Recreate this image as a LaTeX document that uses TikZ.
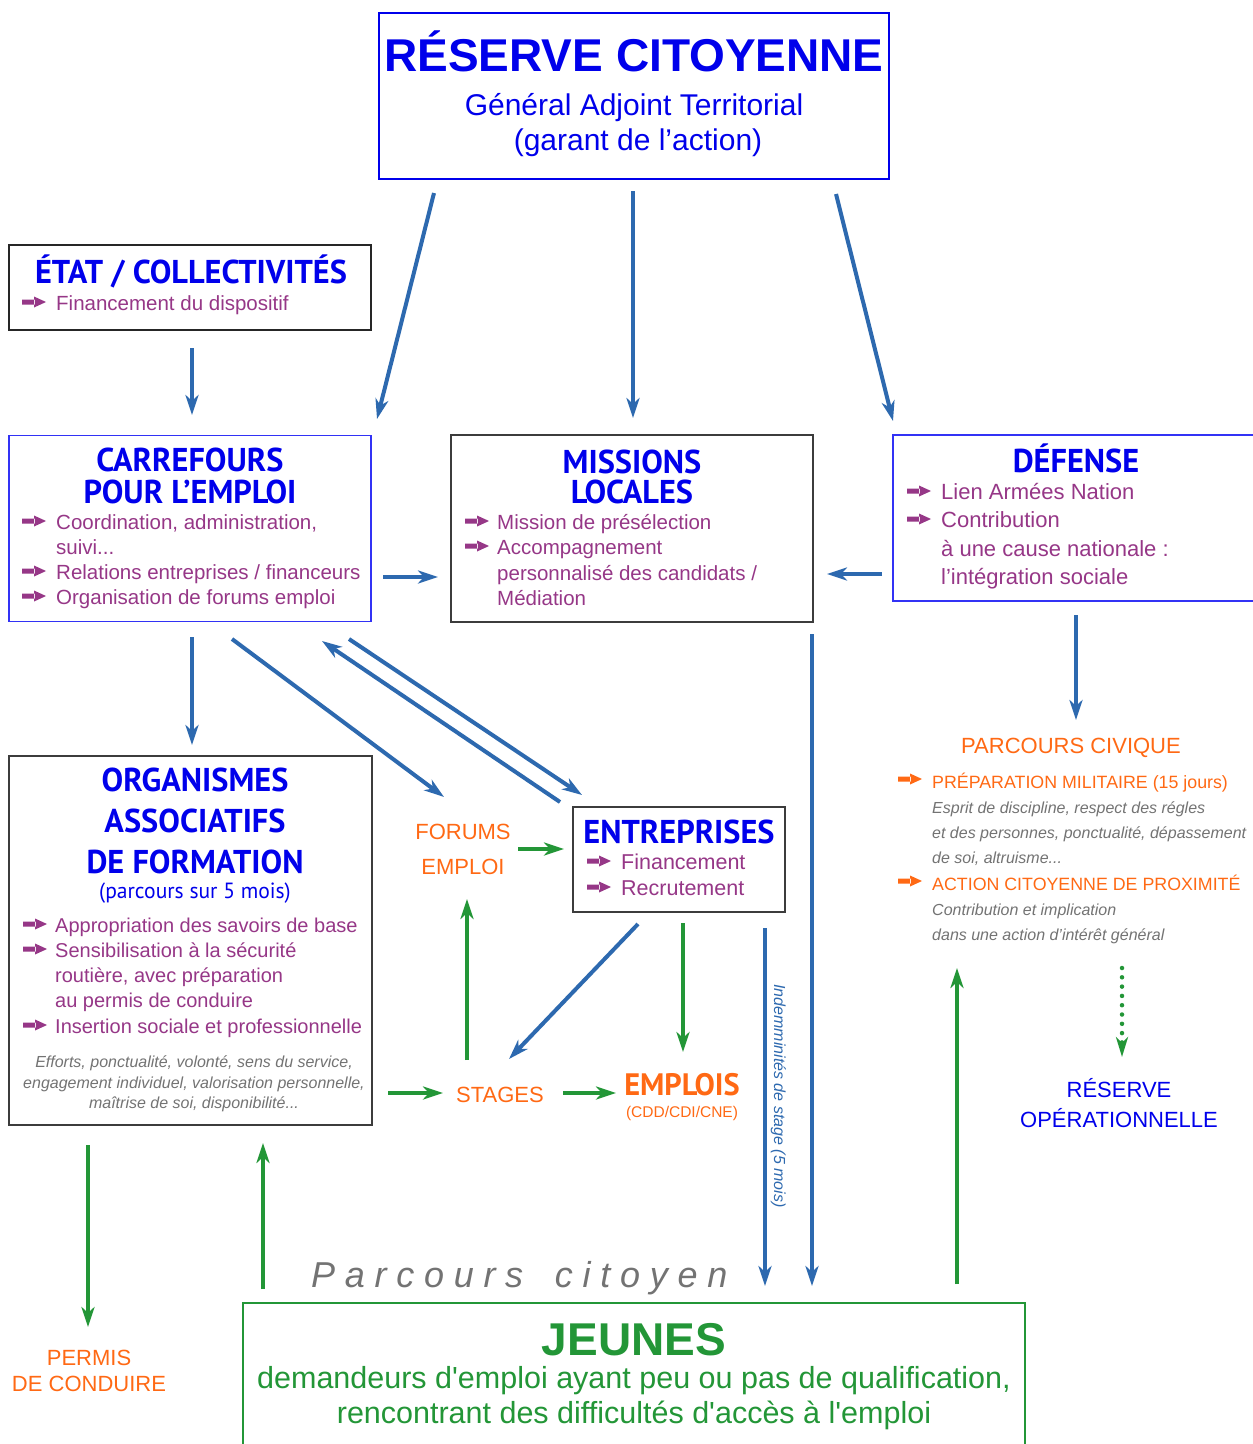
\documentclass[tikz,border=0pt]{standalone}
\usepackage{fontspec}
\setmainfont{Liberation Sans}
\newfontfamily\hfont{PT Sans}[FakeStretch=0.98]
\usetikzlibrary{arrows.meta}
\definecolor{tblue}{RGB}{0,0,235}
\definecolor{bblue}{RGB}{50,50,245}
\definecolor{purp}{RGB}{150,55,135}
\definecolor{ablue}{RGB}{45,105,175}
\definecolor{agreen}{RGB}{35,150,55}
\definecolor{orng}{RGB}{255,105,20}
\definecolor{gtxt}{RGB}{115,115,115}
\definecolor{bgray}{RGB}{60,60,60}
\newcommand\bularrow[3]{\fill[#3,shift={(#1,#2)}] (0,-5.5) rectangle (13,-10.5) (12,-2.5) -- (24,-8) -- (12,-13.5) -- cycle;}
\newcommand\fs[1]{\fontsize{#1}{#1}\selectfont}
\begin{document}
\begin{tikzpicture}[x=1pt,y=-1pt,
  tx/.style={inner sep=0pt, anchor=base},
  lx/.style={inner sep=0pt, anchor=base west},
  hd/.style={tx, font=\hfont\bfseries\fs{33}, text=tblue, text depth=0pt},
  body/.style={lx, font=\fs{20.5}, text=purp},
  gi/.style={font=\itshape\fs{16}, text=gtxt},
  orl/.style={tx, font=\fs{22}, text=orng},
  box/.style={draw=bgray, line width=1.5pt, inner sep=0pt},
  barrow/.style={draw=ablue, line width=4pt, -{Stealth[length=20pt,width=13pt,inset=6pt]}},
  garrow/.style={draw=agreen, line width=4.5pt, -{Stealth[length=20pt,width=13pt,inset=6pt]}},
]
\useasboundingbox (0,0) rectangle (1253,1444);
\fill[white] (0,0) rectangle (1253,1444);

% ---------- boxes ----------
\node[box, draw=tblue, line width=2.5pt, minimum width=510pt, minimum height=166pt] (top) at (634,96) {};
\node[box, line width=1.8pt, draw=black!85, minimum width=362pt, minimum height=85pt] (etat) at (190,287.5) {};
\node[box, draw=bblue, line width=1.3pt, minimum width=362pt, minimum height=186pt] (carr) at (190,528.5) {};
\node[box, minimum width=362pt, minimum height=187pt] (miss) at (632,528.5) {};
\node[box, draw=bblue, line width=1.3pt, minimum width=380pt, minimum height=166pt] (def) at (1083,518) {};
\node[box, minimum width=363pt, minimum height=369pt] (orga) at (190.5,940.5) {};
\node[box, minimum width=212pt, minimum height=105pt] (entr) at (679,859.5) {};
\node[box, draw=agreen, line width=2pt, minimum width=782pt, minimum height=160pt] (jeun) at (634,1383) {};

% ---------- top ----------
\node[tx, font=\bfseries\fs{46}, text=tblue] (rc1) at (634,71) {RÉSERVE CITOYENNE};
\node[tx, font=\fs{30}, text=tblue] (rc2) at (634,115) {Général Adjoint Territorial};
\node[tx, font=\fs{30}, text=tblue] (rc3) at (638,150) {(garant de l’action)};

% ---------- Etat ----------
\node[hd] (e1) at (191,283) {ÉTAT / COLLECTIVITÉS};
\node[body] (e2) at (56,310) {Financement du dispositif};
\bularrow{22}{310}{purp}

% ---------- Carrefours ----------
\node[hd] (c1) at (190,471) {CARREFOURS};
\node[hd] (c2) at (190,503) {POUR L’EMPLOI};
\node[body] (c3) at (56,529) {Coordination, administration,};
\node[body] (c4) at (56,554) {suivi...};
\node[body] (c5) at (56,579) {Relations entreprises / financeurs};
\node[body] (c6) at (56,604) {Organisation de forums emploi};
\bularrow{22}{529}{purp}\bularrow{22}{579}{purp}\bularrow{22}{604}{purp}

% ---------- Missions ----------
\node[hd] (m1) at (632,473) {MISSIONS};
\node[hd] (m2) at (632,503) {LOCALES};
\node[body] (m3) at (497,529) {Mission de présélection};
\node[body] (m4) at (497,554) {Accompagnement};
\node[body] (m5) at (497,580) {personnalisé des candidats /};
\node[body] (m6) at (497,605) {Médiation};
\bularrow{465}{529}{purp}\bularrow{465}{554}{purp}

% ---------- Defense ----------
\node[hd] (d1) at (1076,472) {DÉFENSE};
\node[body, font=\fs{22}] (d2) at (941,499) {Lien Armées Nation};
\node[body, font=\fs{22}] (d3) at (941,527) {Contribution};
\node[body, font=\fs{22}] (d4) at (941,556) {à une cause nationale :};
\node[body, font=\fs{22}] (d5) at (941,584) {l’intégration sociale};
\bularrow{907}{499}{purp}\bularrow{907}{527}{purp}

% ---------- Organismes ----------
\node[hd] (o1) at (195,791) {ORGANISMES};
\node[hd] (o2) at (195,832) {ASSOCIATIFS};
\node[hd] (o3) at (195,873) {DE FORMATION};
\node[tx, font=\hfont\fs{22}, text=tblue] (o4) at (195,898) {(parcours sur 5 mois)};
\node[body, font=\fs{20}] (o5) at (55,932) {Appropriation des savoirs de base};
\node[body, font=\fs{20}] (o6) at (55,957) {Sensibilisation à la sécurité};
\node[body, font=\fs{20}] (o7) at (55,982) {routière, avec préparation};
\node[body, font=\fs{20}] (o8) at (55,1007) {au permis de conduire};
\node[body, font=\fs{20}] (o9) at (55,1033) {Insertion sociale et professionnelle};
\bularrow{23}{932}{purp}\bularrow{23}{957}{purp}\bularrow{23}{1033}{purp}
\node[tx, gi] (o10) at (194,1067) {Efforts, ponctualité, volonté, sens du service,};
\node[tx, gi] (o11) at (194,1088) {engagement individuel, valorisation personnelle,};
\node[tx, gi] (o12) at (194,1108) {maîtrise de soi, disponibilité...};

% ---------- Entreprises ----------
\node[hd] (en1) at (679,843) {ENTREPRISES};
\node[body, font=\fs{21.5}] (en2) at (621,869) {Financement};
\node[body, font=\fs{21.5}] (en3) at (621,895) {Recrutement};
\bularrow{587}{869}{purp}\bularrow{587}{895}{purp}

% ---------- orange labels ----------
\node[orl] (f1) at (463,839) {FORUMS};
\node[orl] (f2) at (463,874) {EMPLOI};
\node[orl] (st) at (500,1102) {STAGES};
\node[tx, font=\hfont\bfseries\fs{31}, text=orng] (em1) at (682,1095) {EMPLOIS};
\node[tx, font=\fs{15.5}, text=orng] (em2) at (682,1117) {(CDD/CDI/CNE)};
\node[orl] (pe1) at (89,1365) {PERMIS};
\node[orl] (pe2) at (89,1391) {DE CONDUIRE};

% ---------- Parcours civique ----------
\node[orl] (p1) at (1071,753) {PARCOURS CIVIQUE};
\node[lx, font=\fs{17.8}, text=orng] (p2) at (932,788) {PRÉPARATION MILITAIRE (15 jours)};
\bularrow{898}{787}{orng}
\node[lx, gi] (p3) at (932,813) {Esprit de discipline, respect des régles};
\node[lx, gi] (p4) at (932,838) {et des personnes, ponctualité, dépassement};
\node[lx, gi] (p5) at (932,863) {de soi, altruisme...};
\node[lx, font=\fs{17.8}, text=orng] (p6) at (932,890) {ACTION CITOYENNE DE PROXIMITÉ};
\bularrow{898}{889}{orng}
\node[lx, gi] (p7) at (932,915) {Contribution et implication};
\node[lx, gi] (p8) at (932,940) {dans une action d’intérêt général};

\node[tx, font=\fs{22}, text=tblue] (r1) at (1119,1097) {RÉSERVE};
\node[tx, font=\fs{22}, text=tblue] (r2) at (1119,1127) {OPÉRATIONNELLE};

% ---------- Jeunes ----------
\node[lx, font=\itshape\fs{36}\addfontfeature{LetterSpace=27}, text=gtxt] (pc) at (311,1287) {Parcours\hspace{12pt} citoyen};
\node[tx, font=\bfseries\fs{46}, text=agreen] (j1) at (634,1355) {JEUNES};
\node[tx, font=\fs{30.5}, text=agreen] (j2) at (634,1388) {demandeurs d\textquotesingle emploi ayant peu ou pas de qualification,};
\node[tx, font=\fs{30.5}, text=agreen] (j3) at (634,1423) {rencontrant des difficultés d\textquotesingle accès à l\textquotesingle emploi};

\node[tx, rotate=-90, font=\itshape\fs{16}, text=ablue] (ind) at (774,1096) {Indemminités de stage (5 mois)};

% ---------- connector end points ----------
\coordinate (a1s) at (434,193); \coordinate (a1e) at (377,419);
\coordinate (a2s) at (633,191); \coordinate (a2e) at (633,418);
\coordinate (a3s) at (836,194); \coordinate (a3e) at (893,421);
\coordinate (a4s) at (192,348); \coordinate (a4e) at (192,415);
\coordinate (a5s) at (383,577); \coordinate (a5e) at (438,577);
\coordinate (a6s) at (882,574); \coordinate (a6e) at (827,574);
\coordinate (a7s) at (192,637); \coordinate (a7e) at (192,745);
\coordinate (a8s) at (232,639); \coordinate (a8e) at (444,797);
\coordinate (a9s) at (560,802); \coordinate (a9e) at (322,641);
\coordinate (a10s) at (349,639); \coordinate (a10e) at (582,795);
\coordinate (a11s) at (1076,615); \coordinate (a11e) at (1076,720);
\coordinate (a12s) at (812,634); \coordinate (a12e) at (812,1286);
\coordinate (a13s) at (765,928); \coordinate (a13e) at (765,1286);
\coordinate (a14s) at (638,924); \coordinate (a14e) at (509,1059);

\coordinate (g1s) at (518,849); \coordinate (g1e) at (564,849);
\coordinate (g2s) at (467,1060); \coordinate (g2e) at (467,899);
\coordinate (g3s) at (683,923); \coordinate (g3e) at (683,1052);
\coordinate (g4s) at (388,1093); \coordinate (g4e) at (443,1093);
\coordinate (g5s) at (563,1093); \coordinate (g5e) at (616,1093);
\coordinate (g6s) at (88,1145); \coordinate (g6e) at (88,1327);
\coordinate (g7s) at (263,1289); \coordinate (g7e) at (263,1143);
\coordinate (g8s) at (957,1284); \coordinate (g8e) at (957,968);
\coordinate (g9s) at (1122,968); \coordinate (g9e) at (1122,1057);

% ---------- blue connectors ----------
\foreach \i in {1,...,14} {\draw[barrow] (a\i s) -- (a\i e);}
% ---------- green connectors ----------
\foreach \i in {1,...,8} {\draw[garrow] (g\i s) -- (g\i e);}
\draw[draw=agreen, line width=4.5pt, line cap=round, dash pattern=on 0pt off 9.3pt,
  -{Stealth[length=20pt,width=12pt,inset=6pt]}] (g9s) -- (g9e);
\end{tikzpicture}
\end{document}
